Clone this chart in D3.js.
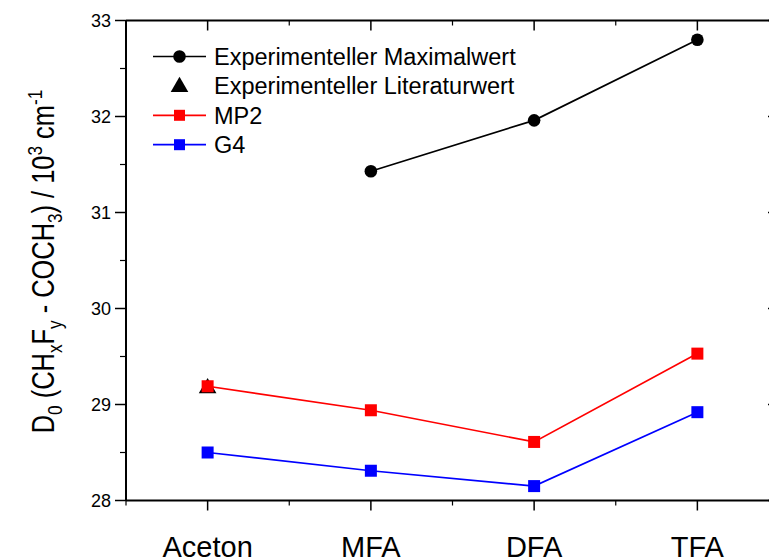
<!DOCTYPE html>
<html>
<head>
<meta charset="utf-8">
<script src="https://cdn.jsdelivr.net/npm/d3@7"></script>
<style>
  body { margin: 0; background: #fff; overflow: hidden; }
  svg text { font-family: "Liberation Sans", Arial, sans-serif; }
</style>
</head>
<body>
<div id="chart"></div>
<script>
// categories and values
const categories = ["Aceton", "MFA", "DFA", "TFA"];
const expMax = [null, 31.43, 31.96, 32.80];
const expLit = [29.18, null, null, null];
const mp2 = [29.19, 28.94, 28.61, 29.53];
const g4 = [28.50, 28.31, 28.15, 28.92];
const yTicks = [28, 29, 30, 31, 32, 33];

const W = 769, H = 558;
const margin = {top: 20.5, left: 126, bottom: 57.5, right: -10};
const width = W - margin.left - margin.right;
const height = H - margin.top - margin.bottom;

const svg = d3.select("#chart").append("svg")
    .attr("width", W).attr("height", H)
    .style("display", "block")
    .append("g")
    .attr("transform", "translate(" + margin.left + "," + margin.top + ")");

// x: category index, half a step padding at both ends
const x = d3.scaleLinear().domain([0.5, 4.5]).range([0, width]);
const y = d3.scaleLinear().domain([28, 33]).range([height, 0]);

const halfTicks = d3.range(0.5, 4.6, 1);
const catTicks = d3.range(1, 5);

// bottom axis
const axBottom = svg.append("g").attr("transform", "translate(0," + height + ")");
axBottom.append("line").attr("x1", 0).attr("x2", width).attr("stroke", "black").attr("stroke-width", 2);
axBottom.selectAll(".maj").data(catTicks).enter().append("line")
    .attr("x1", d => x(d)).attr("x2", d => x(d)).attr("y1", 0).attr("y2", 10)
    .attr("stroke", "black").attr("stroke-width", 1.5);
axBottom.selectAll(".min").data(halfTicks).enter().append("line")
    .attr("x1", d => x(d)).attr("x2", d => x(d)).attr("y1", 0).attr("y2", 5)
    .attr("stroke", "black").attr("stroke-width", 1.2);
axBottom.selectAll(".lab").data(catTicks).enter().append("text")
    .attr("x", d => x(d)).attr("y", 56)
    .attr("text-anchor", "middle").attr("font-size", 29)
    .text(d => categories[d - 1]);

// top axis, ticks pointing in
const axTop = svg.append("g");
axTop.append("line").attr("x1", 0).attr("x2", width).attr("stroke", "black").attr("stroke-width", 2);
axTop.selectAll(".maj").data(catTicks).enter().append("line")
    .attr("x1", d => x(d)).attr("x2", d => x(d)).attr("y1", 0).attr("y2", 10)
    .attr("stroke", "black").attr("stroke-width", 1.5);
axTop.selectAll(".min").data(halfTicks).enter().append("line")
    .attr("x1", d => x(d)).attr("x2", d => x(d)).attr("y1", 0).attr("y2", 5)
    .attr("stroke", "black").attr("stroke-width", 1.2);

// left axis
const yMinor = d3.range(28.5, 33, 1);
const axLeft = svg.append("g");
axLeft.append("line").attr("y1", 0).attr("y2", height).attr("stroke", "black").attr("stroke-width", 2);
axLeft.selectAll(".maj").data(yTicks).enter().append("line")
    .attr("x1", -11).attr("x2", 0).attr("y1", d => y(d)).attr("y2", d => y(d))
    .attr("stroke", "black").attr("stroke-width", 1.5);
axLeft.selectAll(".min").data(yMinor).enter().append("line")
    .attr("x1", -6).attr("x2", 0).attr("y1", d => y(d)).attr("y2", d => y(d))
    .attr("stroke", "black").attr("stroke-width", 1.2);
axLeft.selectAll(".lab").data(yTicks).enter().append("text")
    .attr("x", -15).attr("y", d => y(d) + 6.3)
    .attr("text-anchor", "end").attr("font-size", 18)
    .text(d => d);

// right axis (sits just past the window edge), ticks pointing in
const axRight = svg.append("g").attr("transform", "translate(" + width + ",0)");
axRight.append("line").attr("y1", 0).attr("y2", height).attr("stroke", "black").attr("stroke-width", 2);
axRight.selectAll(".maj").data(yTicks).enter().append("line")
    .attr("x1", -11).attr("x2", 0).attr("y1", d => y(d)).attr("y2", d => y(d))
    .attr("stroke", "black").attr("stroke-width", 1.5);
axRight.selectAll(".min").data(yMinor).enter().append("line")
    .attr("x1", -6).attr("x2", 0).attr("y1", d => y(d)).attr("y2", d => y(d))
    .attr("stroke", "black").attr("stroke-width", 1.2);

// y axis title (glyphs in the figure are tall and narrow)
const title = svg.append("text")
    .attr("transform", "translate(" + (-72) + "," + (height / 2 + 1) + ") rotate(-90) scale(0.82,1)")
    .attr("text-anchor", "middle").attr("font-size", 31);
title.append("tspan").text("D");
title.append("tspan").attr("font-size", 21).attr("dy", 8).text("0");
title.append("tspan").attr("dy", -8).text(" (CH");
title.append("tspan").attr("font-size", 21).attr("dy", 8).text("x");
title.append("tspan").attr("dy", -8).text("F");
title.append("tspan").attr("font-size", 21).attr("dy", 8).text("y");
title.append("tspan").attr("dy", -8).text(" - COCH");
title.append("tspan").attr("font-size", 21).attr("dy", 8).text("3");
title.append("tspan").attr("dy", -8).text(") / 10");
title.append("tspan").attr("font-size", 21).attr("dy", -12).text("3");
title.append("tspan").attr("dy", 12).text(" cm");
title.append("tspan").attr("font-size", 21).attr("dy", -12).text("-1");

// series
const line = d3.line()
    .x(d => x(d.i + 1)).y(d => y(d.v));

function toPts(arr) { return arr.map((v, i) => ({i: i, v: v})).filter(d => d.v !== null); }

const tri = d3.symbol().type(d3.symbolTriangle).size(135);
const sq = 12;

// literature value first, MP2 square sits on top of it
svg.selectAll(null).data(toPts(expLit)).enter().append("path")
    .attr("d", tri)
    .attr("transform", d => "translate(" + x(d.i + 1) + "," + (y(d.v) + 1) + ")")
    .attr("fill", "black");

const series = [
    {vals: g4, color: "#0000ff", shape: "square"},
    {vals: mp2, color: "#ff0000", shape: "square"},
    {vals: expMax, color: "black", shape: "circle"},
];

series.forEach(s => {
    const pts = toPts(s.vals);
    svg.append("path").datum(pts)
        .attr("d", line).attr("fill", "none")
        .attr("stroke", s.color).attr("stroke-width", 1.7);
    if (s.shape === "circle") {
        svg.selectAll(null).data(pts).enter().append("circle")
            .attr("cx", d => x(d.i + 1)).attr("cy", d => y(d.v)).attr("r", 6.3)
            .attr("fill", s.color);
    } else {
        svg.selectAll(null).data(pts).enter().append("rect")
            .attr("x", d => x(d.i + 1) - sq / 2).attr("y", d => y(d.v) - sq / 2)
            .attr("width", sq).attr("height", sq).attr("fill", s.color);
    }
});

// legend
const legendItems = [
    {label: "Experimenteller Maximalwert", color: "black", shape: "circle", line: true},
    {label: "Experimenteller Literaturwert", color: "black", shape: "triangle", line: false},
    {label: "MP2", color: "#ff0000", shape: "square", line: true},
    {label: "G4", color: "#0000ff", shape: "square", line: true},
];
const lg = svg.append("g").attr("transform", "translate(27,36)");
legendItems.forEach((d, i) => {
    const g = lg.append("g").attr("transform", "translate(0," + (i * 29.4) + ")");
    if (d.line) {
        g.append("line").attr("x1", 0).attr("x2", 53).attr("stroke", d.color).attr("stroke-width", 1.7);
    }
    if (d.shape === "circle") {
        g.append("circle").attr("cx", 26.5).attr("r", 6.3).attr("fill", d.color);
    } else if (d.shape === "square") {
        g.append("rect").attr("x", 26.5 - 5.5).attr("y", -5.5).attr("width", 11).attr("height", 11).attr("fill", d.color);
    } else {
        g.append("path").attr("d", tri).attr("transform", "translate(26.5,1)").attr("fill", d.color);
    }
    g.append("text").attr("x", 61).attr("y", 8.3).attr("font-size", 23.5).text(d.label);
});
</script>
</body>
</html>
